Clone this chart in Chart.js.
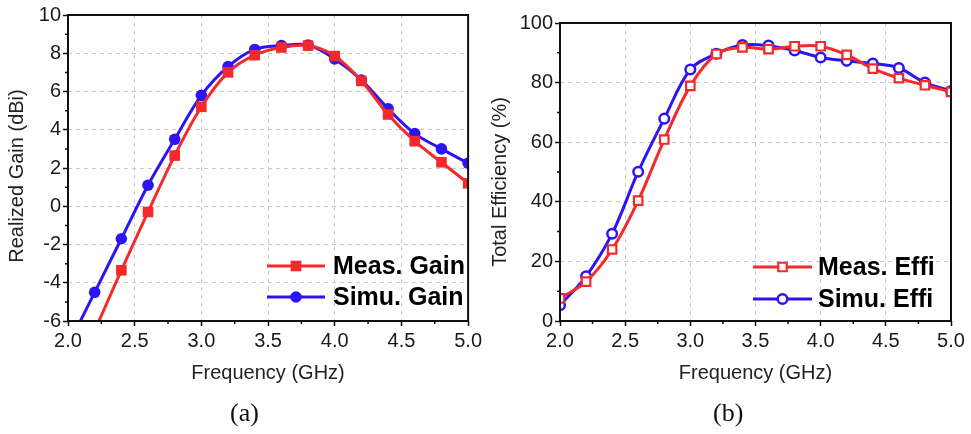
<!DOCTYPE html>
<html>
<head>
<meta charset="utf-8">
<script src="https://cdn.jsdelivr.net/npm/chart.js@4/dist/chart.umd.min.js"></script>
<style>
  body { margin: 0; background: #fff; width: 971px; height: 434px; position: relative; overflow: hidden; }
  canvas { position: absolute; top: 0; }
  .cap { position: absolute; top: 398px; line-height: 30px; font: 26px "Liberation Serif", serif; color: #111; }
</style>
</head>
<body>
<canvas id="gain" width="485" height="434" style="left:0"></canvas>
<canvas id="effi" width="486" height="434" style="left:485px"></canvas>
<div class="cap" style="left:230px">(a)</div>
<div class="cap" style="left:713px">(b)</div>
<script>
// frequency points (GHz)
const freq = [2.0, 2.2, 2.4, 2.6, 2.8, 3.0, 3.2, 3.4, 3.6, 3.8, 4.0, 4.2, 4.4, 4.6, 4.8, 5.0];

// realized gain (dBi)
const measGain = [-9.5, -6.5, -3.35, -0.3, 2.65, 5.2, 7.0, 7.9, 8.3, 8.4, 7.85, 6.55, 4.8, 3.4, 2.3, 1.2];
const simuGain = [-7.3, -4.5, -1.7, 1.1, 3.5, 5.8, 7.3, 8.2, 8.4, 8.43, 7.7, 6.6, 5.1, 3.8, 3.0, 2.25];

// total efficiency (%)
const measEffi = [7.6, 13.2, 24.0, 40.4, 60.9, 78.9, 89.6, 91.8, 91.2, 92.2, 92.2, 89.3, 84.7, 81.5, 79.1, 76.9];
const simuEffi = [5.3, 15.0, 29.3, 50.1, 67.9, 84.4, 89.7, 92.6, 92.4, 90.8, 88.4, 87.3, 86.4, 84.9, 80.0, 77.2];

// tick labels
const freqTicks = [2.0, 2.5, 3.0, 3.5, 4.0, 4.5, 5.0];
const gainTicks = [-6, -4, -2, 0, 2, 4, 6, 8, 10];
const effiTicks = [0, 20, 40, 60, 80, 100];

const RED = '#f42a2a';
const BLUE = '#2c14f4';
const FONT = '"Liberation Sans", Arial, sans-serif';

const toXY = (xs, ys) => xs.map((x, i) => ({ x: x, y: ys[i] }));

// frame, minor ticks, y title and legend drawn over the chart
const framePlugin = {
  id: 'frame',
  afterDraw(chart, args, opts) {
    const { ctx, chartArea: a, scales } = chart;
    ctx.save();
    ctx.strokeStyle = '#111';
    ctx.lineWidth = 1.5;
    ctx.beginPath();
    const xt = opts.xTicks, yt = opts.yTicks;
    for (let i = 0; i < xt.length - 1; i++) {
      const px = scales.x.getPixelForValue((xt[i] + xt[i + 1]) / 2);
      ctx.moveTo(px, a.bottom);
      ctx.lineTo(px, a.bottom + 3);
    }
    for (let i = 0; i < yt.length - 1; i++) {
      const py = scales.y.getPixelForValue((yt[i] + yt[i + 1]) / 2);
      ctx.moveTo(a.left - 3, py);
      ctx.lineTo(a.left, py);
    }
    ctx.stroke();

    ctx.lineWidth = 2;
    ctx.strokeStyle = '#111';
    ctx.strokeRect(a.left, a.top, a.right - a.left, a.bottom - a.top);

    // y axis title
    ctx.save();
    ctx.translate(opts.yTitle.x, opts.yTitle.y);
    ctx.rotate(-Math.PI / 2);
    ctx.fillStyle = '#222';
    ctx.font = '20px ' + FONT;
    ctx.textAlign = 'center';
    ctx.textBaseline = 'middle';
    ctx.fillText(opts.yTitle.text, 0, 0);
    ctx.restore();

    // legend
    const lg = opts.legend;
    chart.data.datasets.forEach((ds, i) => {
      const y = lg.rows[i];
      ctx.strokeStyle = ds.borderColor;
      ctx.lineWidth = 3;
      ctx.beginPath();
      ctx.moveTo(lg.x0, y);
      ctx.lineTo(lg.x1, y);
      ctx.stroke();
      ctx.fillStyle = ds.pointBackgroundColor;
      ctx.strokeStyle = ds.pointBorderColor;
      ctx.lineWidth = ds.pointBorderWidth;
      Chart.helpers.drawPoint(ctx, {
        pointStyle: ds.pointStyle, radius: ds.legendRadius,
        borderWidth: ds.pointBorderWidth, rotation: 0
      }, (lg.x0 + lg.x1) / 2, y);
      ctx.fillStyle = '#000';
      ctx.font = 'bold 25px ' + FONT;
      ctx.textBaseline = 'middle';
      ctx.textAlign = 'left';
      ctx.fillText(ds.label, lg.tx, y + 1);
    });
    ctx.restore();
  }
};

function axes(yTicks, yWidth) {
  const gridColor = (ticks) => (c) => {
    const v = c.tick ? c.tick.value : null;
    return (v === ticks[0] || v === ticks[ticks.length - 1]) ? 'rgba(0,0,0,0)' : '#c8c8c8';
  };
  return {
    x: {
      type: 'linear',
      min: freqTicks[0],
      max: freqTicks[freqTicks.length - 1],
      afterBuildTicks: s => { s.ticks = freqTicks.map(v => ({ value: v })); },
      afterFit: s => { s.height = 64; },
      ticks: {
        autoSkip: false, maxRotation: 0, padding: 3,
        color: '#1a1a1a', font: { family: FONT, size: 20 },
        callback: v => v.toFixed(1)
      },
      grid: {
        color: gridColor(freqTicks), lineWidth: 1,
        tickLength: 5, tickColor: '#111', tickWidth: 1.5, tickBorderDash: []
      },
      border: { display: false, dash: [4, 4] },
      title: {
        display: true, text: 'Frequency (GHz)', color: '#222',
        font: { family: FONT, size: 20 }, padding: { top: 0, bottom: 0 }
      }
    },
    y: {
      min: yTicks[0],
      max: yTicks[yTicks.length - 1],
      afterBuildTicks: s => { s.ticks = yTicks.map(v => ({ value: v })); },
      afterFit: s => { s.width = yWidth; },
      ticks: {
        autoSkip: false, padding: 2,
        color: '#1a1a1a', font: { family: FONT, size: 20 }
      },
      grid: {
        color: gridColor(yTicks), lineWidth: 1,
        tickLength: 5, tickColor: '#111', tickWidth: 1.5, tickBorderDash: []
      },
      border: { display: false, dash: [4, 4] }
    }
  };
}

new Chart(document.getElementById('gain'), {
  type: 'line',
  data: {
    datasets: [{
      label: 'Meas. Gain',
      data: toXY(freq, measGain),
      borderColor: RED, borderWidth: 3, tension: 0.35,
      pointStyle: 'rect',
      pointRadius: measGain.map(v => v < gainTicks[0] ? 0 : 7.5),
      legendRadius: 7.5,
      pointBackgroundColor: RED, pointBorderColor: RED, pointBorderWidth: 0
    }, {
      label: 'Simu. Gain',
      data: toXY(freq, simuGain),
      borderColor: BLUE, borderWidth: 3, tension: 0.35,
      pointStyle: 'circle',
      pointRadius: simuGain.map(v => v < gainTicks[0] ? 0 : 5.8),
      legendRadius: 5.8,
      pointBackgroundColor: BLUE, pointBorderColor: BLUE, pointBorderWidth: 0
    }]
  },
  options: {
    responsive: false,
    animation: false,
    layout: { padding: { left: 0, right: 15, top: 15, bottom: 49 } },
    plugins: {
      legend: { display: false },
      tooltip: { enabled: false },
      frame: {
        xTicks: freqTicks, yTicks: gainTicks,
        yTitle: { text: 'Realized Gain (dBi)', x: 17, y: 176 },
        legend: { x0: 267, x1: 325, tx: 333, rows: [266, 297] }
      }
    },
    scales: axes(gainTicks, 68)
  },
  plugins: [framePlugin]
});

new Chart(document.getElementById('effi'), {
  type: 'line',
  data: {
    datasets: [{
      label: 'Meas. Effi',
      data: toXY(freq, measEffi),
      borderColor: RED, borderWidth: 3, tension: 0.35,
      pointStyle: 'rect', pointRadius: 6, legendRadius: 6,
      pointBackgroundColor: '#fff', pointBorderColor: RED, pointBorderWidth: 2.2
    }, {
      label: 'Simu. Effi',
      data: toXY(freq, simuEffi),
      borderColor: BLUE, borderWidth: 3, tension: 0.35,
      pointStyle: 'circle', pointRadius: 4.8, legendRadius: 4.8,
      pointBackgroundColor: '#fff', pointBorderColor: BLUE, pointBorderWidth: 2.5
    }]
  },
  options: {
    responsive: false,
    animation: false,
    layout: { padding: { left: 0, right: 20, top: 23, bottom: 49 } },
    plugins: {
      legend: { display: false },
      tooltip: { enabled: false },
      frame: {
        xTicks: freqTicks, yTicks: effiTicks,
        yTitle: { text: 'Total Efficiency (%)', x: 15, y: 182 },
        legend: { x0: 268, x1: 327, tx: 333, rows: [267, 299] }
      }
    },
    scales: axes(effiTicks, 75)
  },
  plugins: [framePlugin]
});
</script>
</body>
</html>
